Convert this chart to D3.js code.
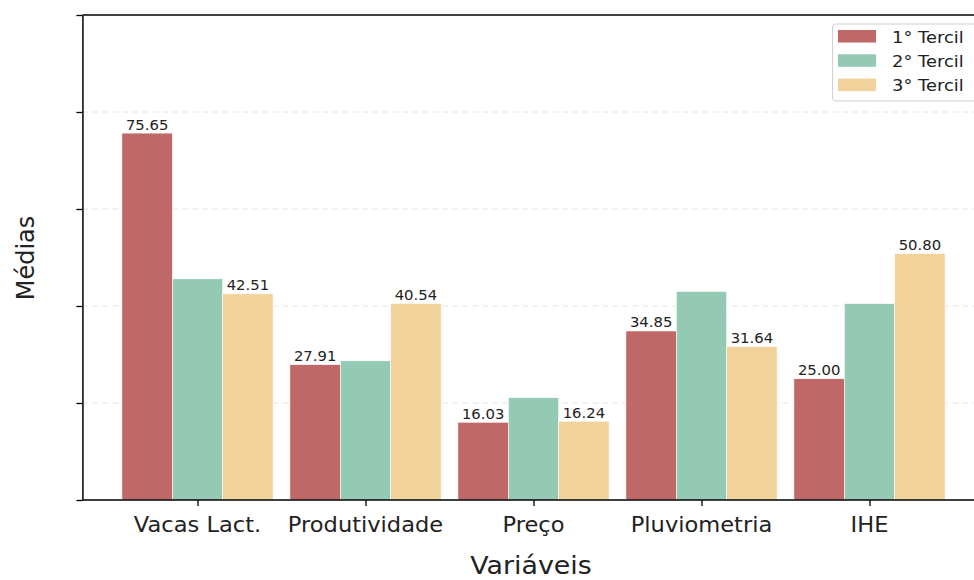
<!DOCTYPE html>
<html>
<head>
<meta charset="utf-8">
<script src="https://cdn.jsdelivr.net/npm/d3@7"></script>
<style>
  html, body { margin: 0; padding: 0; background: #fff; }
  svg { display: block; font-family: "DejaVu Sans", sans-serif; }
</style>
</head>
<body>
<svg id="chart" width="974" height="580"></svg>
<script>
const categories = ["Vacas Lact.", "Produtividade", "Preço", "Pluviometria", "IHE"];
const seriesNames = ["1° Tercil", "2° Tercil", "3° Tercil"];
const tercil1 = [75.65, 27.91, 16.03, 34.85, 25.00];
const tercil2 = [45.6, 28.7, 21.1, 43.0, 40.5];
const tercil3 = [42.51, 40.54, 16.24, 31.64, 50.80];
const showLabel = [true, false, true];
const colors = ["#c06868", "#94c9b4", "#f2d29b"];
const yTicks = [0, 20, 40, 60, 80, 100];
const gridTicks = [20, 40, 60, 80];

const series = [tercil1, tercil2, tercil3];
const svg = d3.select("#chart");
const SX = 1.1; // horizontal stretch of the reference's text

const x = d3.scaleLinear().domain([0, 4]).range([197.5, 869.5]);
const unit = x(1) - x(0);
const y = d3.scaleLinear().domain([0, 100]).range([500, 15]);
const left = x(-0.685), right = 990;

function stretchedText(g, tx, ty, txt, size, anchor, sx) {
  return g.append("text")
    .attr("transform", `translate(${tx},${ty}) scale(${sx},1)`)
    .attr("text-anchor", anchor)
    .attr("font-size", size)
    .attr("fill", "#222")
    .text(txt);
}

// grid
svg.append("g").selectAll("line").data(gridTicks).join("line")
  .attr("x1", left).attr("x2", right)
  .attr("y1", d => y(d)).attr("y2", d => y(d))
  .attr("stroke", "#e4e4e4").attr("stroke-width", 1)
  .attr("stroke-dasharray", "6,4");

// bars
const barW = 0.3 * unit;
series.forEach((vals, s) => {
  const g = svg.append("g");
  g.selectAll("rect").data(vals).join("rect")
    .attr("x", (d, i) => x(i + (s - 1) * 0.3) - barW / 2)
    .attr("width", barW)
    .attr("y", d => y(d))
    .attr("height", d => y(0) - y(d))
    .attr("fill", colors[s])
    .attr("stroke", "#ffffff").attr("stroke-width", 0.6);
  if (showLabel[s]) {
    vals.forEach((d, i) => {
      stretchedText(g, x(i + (s - 1) * 0.3), y(d) - 3.5, d.toFixed(2), 14, "middle", 1.06);
    });
  }
});

// axes
const xAxis = d3.axisBottom(x).tickValues(d3.range(categories.length))
  .tickFormat("").tickSize(6).tickSizeOuter(0);
const gx = svg.append("g").attr("transform", `translate(0,${y(0)})`).call(xAxis);
gx.select(".domain").remove();
gx.selectAll(".tick line").attr("stroke", "#000").attr("stroke-width", 1.3);
svg.append("line").attr("x1", left).attr("x2", right).attr("y1", y(0)).attr("y2", y(0))
  .attr("stroke", "#000").attr("stroke-width", 1.5);
svg.append("line").attr("x1", left).attr("x2", right).attr("y1", y(100)).attr("y2", y(100))
  .attr("stroke", "#000").attr("stroke-width", 1.5);

const yAxis = d3.axisLeft(y).tickValues(yTicks).tickFormat("").tickSize(6).tickSizeOuter(0);
const gy = svg.append("g").attr("transform", `translate(${left},0)`).call(yAxis);
gy.select(".domain").attr("stroke", "#000").attr("stroke-width", 1.5);
gy.selectAll(".tick line").attr("stroke", "#000").attr("stroke-width", 1.3);

// tick labels
const tl = svg.append("g");
categories.forEach((c, i) => stretchedText(tl, x(i), 532, c, 20.5, "middle", SX));

// axis titles
stretchedText(svg, 531, 574, "Variáveis", 24, "middle", 1.12);
svg.append("text")
  .attr("transform", `translate(34,258) rotate(-90)`)
  .attr("text-anchor", "middle").attr("font-size", 24).attr("fill", "#222")
  .text("Médias");

// legend
const lg = svg.append("g");
lg.append("rect").attr("x", 832.5).attr("y", 24).attr("width", 160).attr("height", 77)
  .attr("rx", 3).attr("fill", "#fff").attr("fill-opacity", 0.8)
  .attr("stroke", "#d0d0d0").attr("stroke-width", 1);
seriesNames.forEach((n, s) => {
  const yy = 30 + s * 24.3;
  lg.append("rect").attr("x", 838).attr("y", yy).attr("width", 38).attr("height", 12.5)
    .attr("fill", colors[s]);
  stretchedText(lg, 892, yy + 12.5, n, 16, "start", 1.12);
});
</script>
</body>
</html>
